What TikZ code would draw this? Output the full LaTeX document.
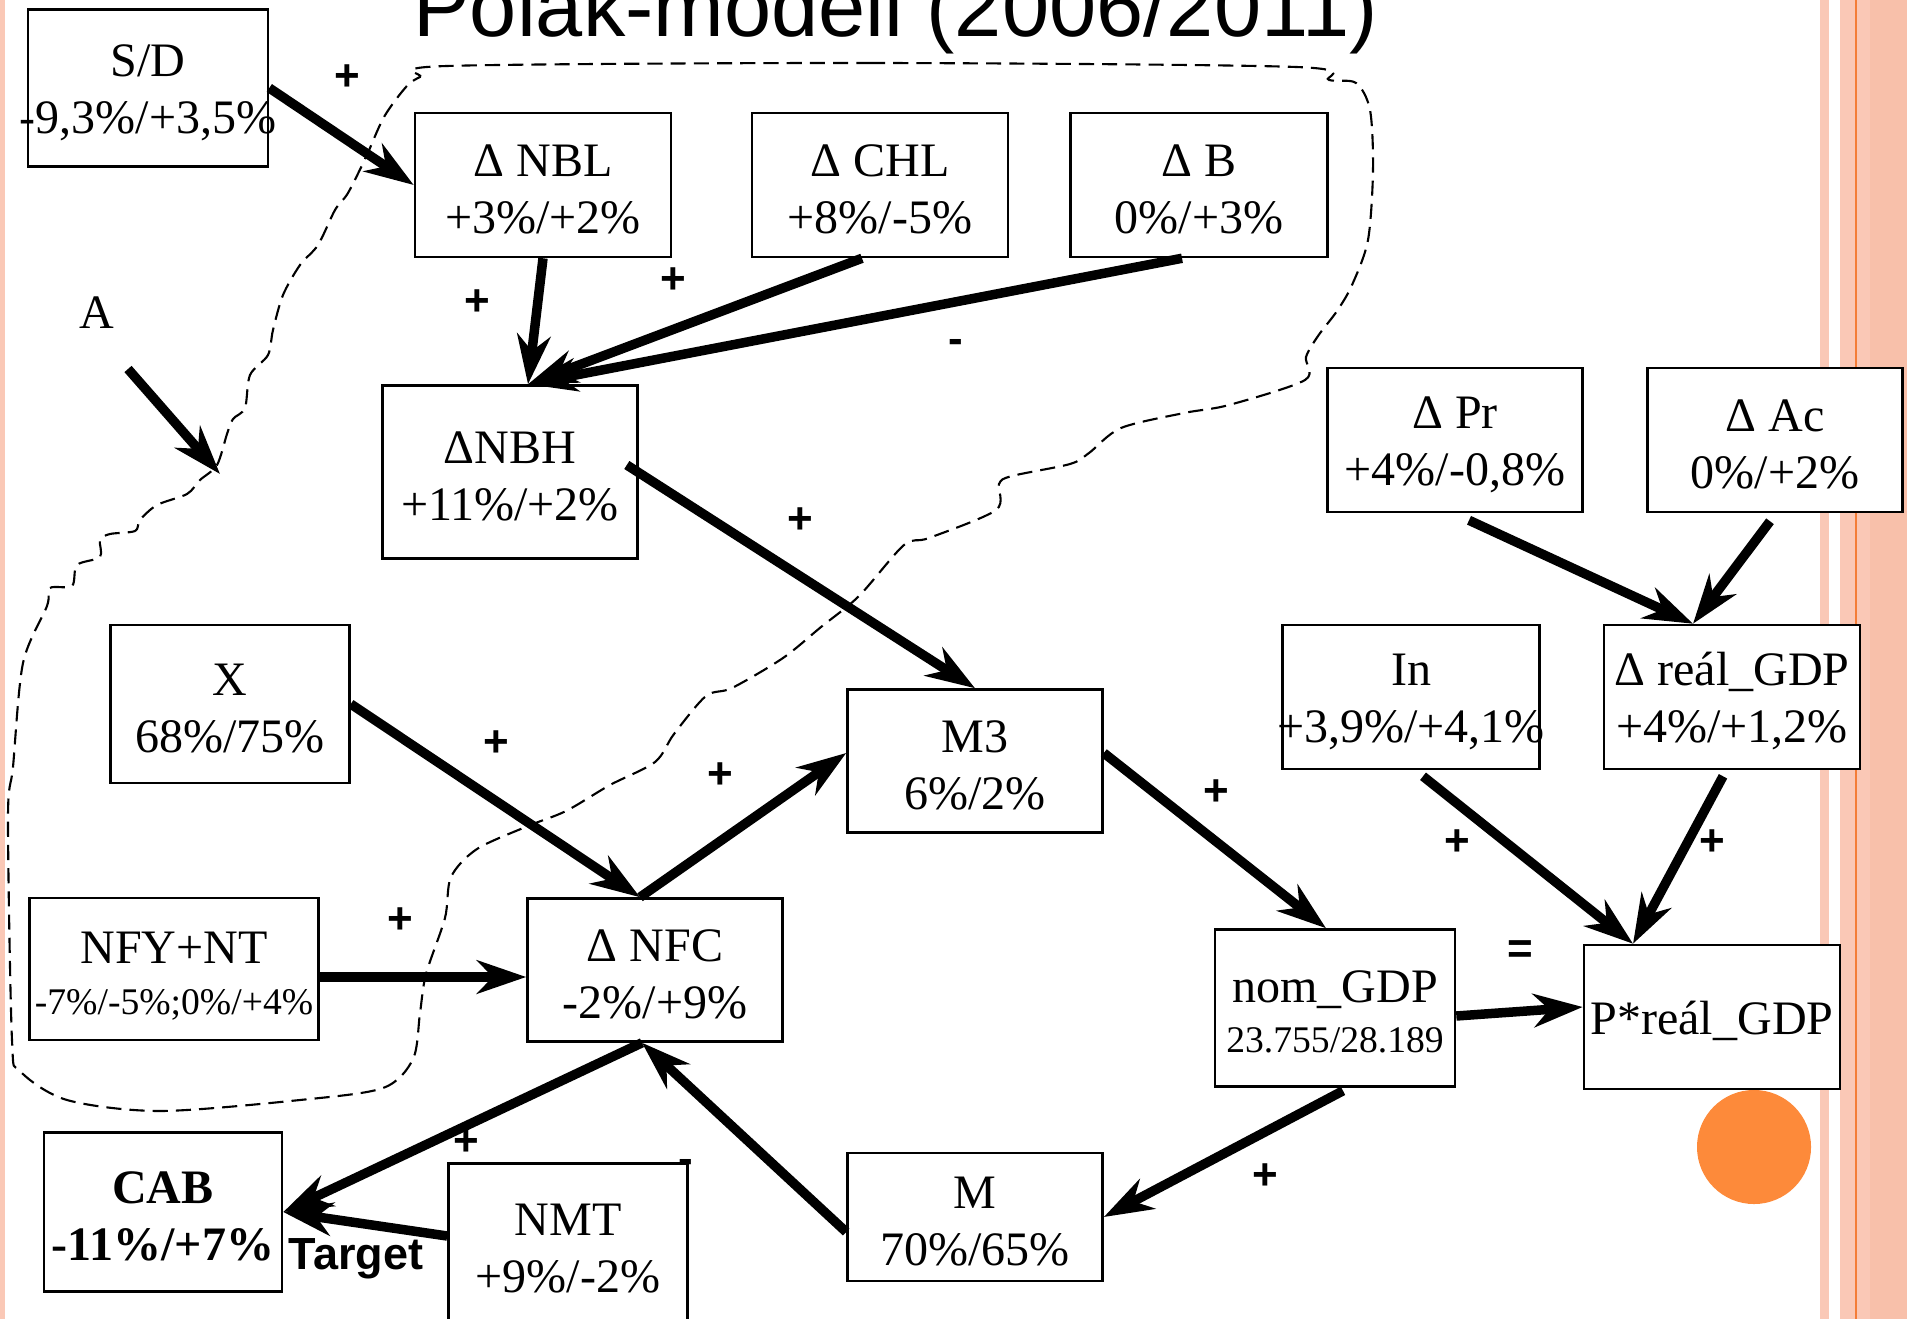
\documentclass[tikz,border=0pt]{standalone}
\usepackage{fontspec}
\setmainfont{Liberation Serif}
\newfontfamily\sansf{Liberation Sans}
\usetikzlibrary{arrows.meta,calc}
\definecolor{stripe}{RGB}{250,200,182}
\definecolor{stripedark}{RGB}{248,192,170}
\definecolor{stripeline}{RGB}{244,125,55}
\definecolor{dot}{RGB}{253,138,58}
\newcommand{\ovr}[1]{\makebox[0pt]{#1}}
\newcommand{\smline}{\fontsize{10.7}{12.6}\selectfont}

\begin{document}
\begin{tikzpicture}[x=0.01cm,y=-0.01cm,
	box/.style={draw,fill=white,line width=0.7pt,inner sep=0pt,align=center,minimum width=2.55cm,minimum height=1.44cm,font=\fontsize{13.66}{16.2}\selectfont},
	twoline/.style={execute at begin node={\rule{0pt}{#1}}},
	twoline/.default=27.7pt,
	arr/.style={-{Stealth[length=14pt,width=9.5pt,inset=4.5pt]},line width=2.7pt},
	sgn/.style={font=\sansf\bfseries\fontsize{12.5}{14}\selectfont}]
	\useasboundingbox (0,0) rectangle (1907,1319);
	\fill[stripe] (0,0) rectangle (5,1319);
	\fill[stripe] (1820,0) rectangle (1829,1319);
	\fill[stripe] (1840,0) rectangle (1907,1319);
	\fill[stripedark] (1870,0) rectangle (1907,1319);
	\fill[stripeline] (1855,0) rectangle (1857,1319);
	\node[anchor=base west,font=\sansf\fontsize{24.1}{28}\selectfont] (title) at (401,37) {Polak-modell (2006/2011)};
	\draw[line width=0.6pt,dash pattern=on 4.3pt off 2.3pt] plot[smooth cycle,tension=0.5] coordinates {(447,66) (870,63) (1296,67) (1329,80) (1356,83) (1370,110) (1373,170) (1368,240) (1352,285) (1337,311) (1318,336) (1306,357) (1305,380) (1229,405) (1184,413) (1121,428) (1089,453) (1070,464) (1012,476) (999,484) (996,510) (929,538) (904,545) (859,596) (821,627) (783,658) (732,688) (706,696) (674,734) (655,762) (610,785) (566,811) (528,826) (477,849) (451,877) (445,918) (426,974) (420,1013) (413,1059) (383,1088) (300,1100) (160,1111) (67,1100) (20,1071) (12,1040) (8,818) (13,767) (23,663) (47,606) (50,588) (72,586) (77,565) (100,557) (100,540) (110,534) (135,531) (140,520) (157,505) (187,494) (200,480) (217,465) (227,434) (233,419) (245,408) (250,375) (268,355) (273,330) (283,295) (300,265) (318,245) (335,210) (348,193) (366,157) (384,117) (406,87) (420,77)};
	\fill[dot] (1754,1147) circle (0.57cm);
	\node[sgn] at (686,1166) {-};
	\node[box,twoline,minimum width=2.4cm,minimum height=1.57cm] (sd) at (148,88) {S/D\\\ovr{-9,3\%/+3,5\%}};
	\node[box,twoline,minimum width=2.56cm] (nbl) at (543,185) {Δ NBL\\+3\%/+2\%};
	\node[box,twoline,minimum width=2.56cm] (chl) at (880,185) {Δ CHL\\+8\%/-5\%};
	\node[box,twoline,minimum width=2.57cm] (b) at (1199,185) {Δ B\\0\%/+3\%};
	\node[box,twoline,minimum height=1.73cm] (nbh) at (510,472) {ΔNBH\\+11\%/+2\%};
	\node[box,twoline] (pr) at (1455,440) {Δ Pr\\+4\%/-0,8\%};
	\node[box,twoline] (ac) at (1775,440) {Δ Ac\\0\%/+2\%};
	\node[box,twoline,minimum width=2.39cm,minimum height=1.58cm] (x) at (230,704) {X\\68\%/75\%};
	\node[box,twoline,minimum height=1.43cm] (m3) at (975,761) {M3\\6\%/2\%};
	\node[box,twoline,minimum width=2.57cm] (in) at (1411,697) {In\\\ovr{+3,9\%/+4,1\%}};
	\node[box,twoline,minimum width=2.56cm] (rgdp) at (1732,697) {Δ reál\_GDP\\+4\%/+1,2\%};
	\node[box,twoline,minimum width=2.89cm,minimum height=1.42cm] (nfy) at (174,969) {NFY+NT\\[-1.5pt]{\smline -7\%/-5\%;0\%/+4\%}};
	\node[box,twoline,minimum height=1.43cm] (nfc) at (655,970) {Δ NFC\\-2\%/+9\%};
	\node[box,twoline=25.5pt,minimum width=2.4cm,minimum height=1.57cm] (nom) at (1335,1008) {nom\_GDP\\[-2pt]{\smline 23.755/28.189}};
	\node[box,twoline=11.6pt,minimum width=2.56cm] (pgdp) at (1712,1017) {P*reál\_GDP};
	\node[box,twoline,minimum width=2.38cm,minimum height=1.59cm,font=\fontsize{13.66}{16.2}\selectfont\bfseries] (cab) at (163,1212) {CAB\\-11\%/+7\%};
	\node[box,twoline,minimum width=2.39cm,minimum height=1.61cm] (nmt) at (568,1244) {NMT\\+9\%/-2\%};
	\node[box,twoline,minimum height=1.28cm] (m) at (975,1217) {M\\70\%/65\%};
	\node[font=\fontsize{13.66}{16.2}\selectfont] (a) at (97,313) {A};
	\coordinate (atip) at (220,474);
	\draw[arr] ($(a)+(31,56)$) -- (atip);
	\draw[arr] (sd.east) -- (nbl.west);
	\coordinate (nbhin) at ($(nbh.north)+(18,0)$);
	\draw[arr] (nbl.south) -- (nbhin);
	\draw[arr] ($(chl.south)+(-18,0)$) -- (nbhin);
	\draw[arr] ($(b.south)+(-17,0)$) -- (nbhin);
	\draw[arr] ($(nbh.east)+(-12,-7)$) -- (m3.north);
	\coordinate (nfcin) at ($(nfc.north)+(-15,0)$);
	\draw[arr] (x.east) -- (nfcin);
	\draw[arr] (nfcin) -- ($(m3.west)+(0,-8)$);
	\draw[arr] ($(nfy.east)+(0,8)$) -- ($(nfc.west)+(0,7)$);
	\draw[arr] ($(m3.east)+(0,-8)$) -- ($(nom.north)+(-9,0)$);
	\draw[arr] ($(nom.east)+(0,8)$) -- ($(pgdp.west)+(0,-10)$);
	\coordinate (rgdpin) at ($(rgdp.north)+(-39,0)$);
	\draw[arr] ($(pr.south)+(14,7)$) -- (rgdpin);
	\draw[arr] ($(ac.south)+(-5,8)$) -- (rgdpin);
	\coordinate (pgdpin) at ($(pgdp.north)+(-79,0)$);
	\draw[arr] ($(in.south)+(12,6)$) -- (pgdpin);
	\draw[arr] ($(rgdp.south)+(-9,6)$) -- (pgdpin);
	\draw[arr] ($(nom.south)+(8,3)$) -- (m.east);
	\coordinate (nfcout) at ($(nfc.south)+(-13,0)$);
	\draw[arr] ($(m.west)+(0,15)$) -- (nfcout);
	\draw[arr] (nfcout) -- (cab.east);
	\draw[arr] ($(nmt.west)+(0,-8)$) -- (cab.east);
	\node[sgn] at (347,78) {+};
	\node[sgn] at (477,303) {+};
	\node[sgn] at (673,281) {+};
	\node[sgn] at (956,346) {-};
	\node[sgn] at (800,521) {+};
	\node[sgn] at (496,744) {+};
	\node[sgn] at (720,776) {+};
	\node[sgn] at (400,921) {+};
	\node[sgn] at (1216,793) {+};
	\node[sgn] at (1457,843) {+};
	\node[sgn] at (1712,843) {+};
	\node[sgn] at (1520,952) {=};
	\node[sgn] at (1265,1177) {+};
	\node[sgn] at (466,1143) {+};
	\node[sgn,font=\sansf\bfseries\fontsize{12.8}{14}\selectfont] (target) at (356,1259) {Target};
\end{tikzpicture}
\end{document}
